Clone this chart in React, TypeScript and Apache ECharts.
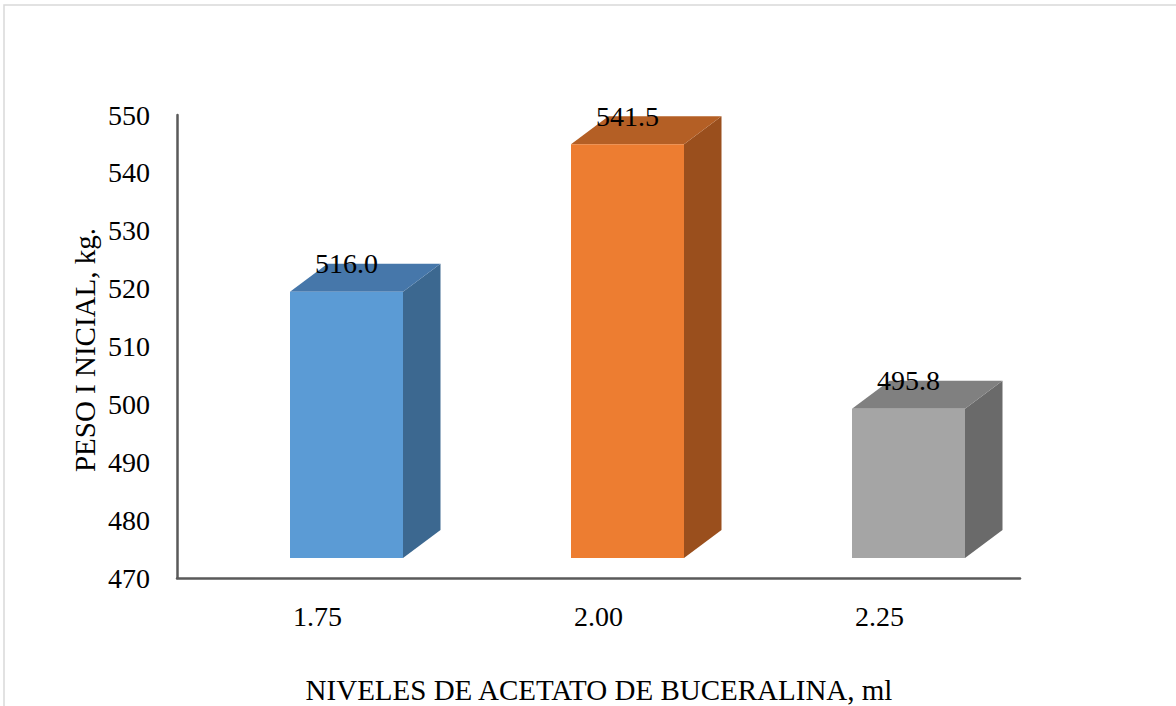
import React, { useEffect, useRef } from "react";
import * as echarts from "echarts";

const categories = ["1.75", "2.00", "2.25"];
const values = [516.0, 541.5, 495.8];
const yTicks = { min: 470, max: 550, interval: 10 };
const xTitle = "NIVELES DE ACETATO DE BUCERALINA, ml";
const yTitle = "PESO I NICIAL, kg.";

const frontColors = ["#5B9BD5", "#ED7D31", "#A5A5A5"];
const topColors = ["#4677AA", "#B45F25", "#808080"];
const sideColors = ["#3C6890", "#9A4F1D", "#6A6A6A"];

const FONT = "Liberation Serif";

export default function App() {
  const ref = useRef<HTMLDivElement>(null);
  useEffect(() => {
    document.body.style.margin = "0";
    const chart = echarts.init(ref.current!, null, { renderer: "svg" });
    const option: any = {
      animation: false,
      backgroundColor: "#ffffff",
      grid: { left: 177, right: 156, top: 115, bottom: 128 },
      xAxis: {
        type: "category",
        data: categories,
        axisLine: { show: true, lineStyle: { color: "#5a5a5a", width: 2.5 } },
        axisTick: { show: false },
        axisLabel: { fontFamily: FONT, fontSize: 28, color: "#000", margin: 24 },
        splitLine: { show: false },
      },
      yAxis: {
        type: "value",
        min: yTicks.min,
        max: yTicks.max,
        interval: yTicks.interval,
        axisLine: { show: true, lineStyle: { color: "#5a5a5a", width: 2.5 } },
        axisTick: { show: false },
        axisLabel: { fontFamily: FONT, fontSize: 28, color: "#000", margin: 27 },
        splitLine: { show: false },
      },
      graphic: [
        {
          type: "rect",
          shape: { x: 4, y: 5, width: 1190, height: 720 },
          style: { fill: "none", stroke: "#d9d9d9", lineWidth: 1.5 },
          silent: true,
          z: -10,
        },
        {
          type: "text",
          x: 85,
          y: 350,
          rotation: Math.PI / 2,
          style: {
            text: yTitle,
            fontFamily: FONT,
            fontSize: 29,
            fill: "#000",
            align: "center",
            verticalAlign: "middle",
          },
        },
        {
          type: "text",
          x: 599,
          y: 690,
          style: {
            text: xTitle,
            fontFamily: FONT,
            fontSize: 29,
            fill: "#000",
            align: "center",
            verticalAlign: "middle",
          },
        },
      ],
      series: [
        {
          type: "custom",
          data: values.map((v, i) => [i, v]),
          renderItem: (params: any, api: any) => {
            const idx = api.value(0);
            const v = api.value(1);
            const top = api.coord([idx, v]);
            const base = api.coord([idx, yTicks.min]);
            const shiftY = -20;
            const dx = 37.5;
            const dy = -28;
            const w = 113;
            const L = top[0] - 27.5;
            const R = L + w;
            const T = top[1] + shiftY;
            const B = base[1] + shiftY;
            const i = params.dataIndex;
            return {
              type: "group",
              children: [
                {
                  type: "polygon",
                  shape: { points: [[R, T], [R + dx, T + dy], [R + dx, B + dy], [R, B]] },
                  style: { fill: sideColors[i] },
                },
                {
                  type: "polygon",
                  shape: { points: [[L, T], [R, T], [R + dx, T + dy], [L + dx, T + dy]] },
                  style: { fill: topColors[i] },
                },
                {
                  type: "rect",
                  shape: { x: L, y: T, width: w, height: B - T },
                  style: { fill: frontColors[i] },
                },
                {
                  type: "text",
                  x: (L + R) / 2,
                  y: T + dy,
                  style: {
                    text: v.toFixed(1),
                    fontFamily: FONT,
                    fontSize: 28,
                    fill: "#000",
                    align: "center",
                    verticalAlign: "middle",
                  },
                },
              ],
            };
          },
        },
      ],
    };
    chart.setOption(option);
    return () => chart.dispose();
  }, []);
  return <div ref={ref} style={{ width: 1176, height: 706 }} />;
}
